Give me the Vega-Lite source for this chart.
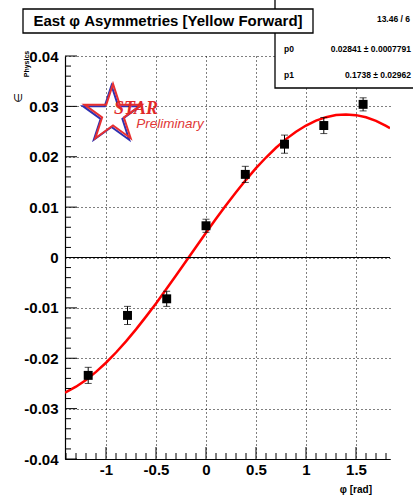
{
  "$schema": "https://vega.github.io/schema/vega-lite/v6.json",
  "width": 325,
  "height": 403,
  "autosize": "none",
  "padding": {"left": 65, "top": 56, "right": 23, "bottom": 40},
  "background": "white",
  "config": {
    "view": {"stroke": null},
    "font": "Liberation Sans",
    "axis": {"labelFont": "Liberation Sans", "titleFont": "Liberation Sans", "labelExpr": "toString(datum.value)",
      "labelFontSize": 15, "labelFontWeight": "bold", "labelColor": "black",
      "domain": true, "domainColor": "black", "domainWidth": 1.2, "ticks": false,
      "grid": true, "gridColor": "black", "gridDash": [1, 3], "gridWidth": 1, "gridOpacity": 1},
    "axisX": {"tickCount": 7, "labelPadding": 3},
    "axisY": {"tickCount": 8, "labelPadding": 7}
  },
  "datasets": {
    "points": [
      {"phi": -1.178, "val": -0.0234, "lo": -0.0250, "hi": -0.0218},
      {"phi": -0.785, "val": -0.0115, "lo": -0.0133, "hi": -0.0097},
      {"phi": -0.393, "val": -0.0082, "lo": -0.0097, "hi": -0.0067},
      {"phi": 0.0, "val": 0.0063, "lo": 0.0050, "hi": 0.0076},
      {"phi": 0.393, "val": 0.0165, "lo": 0.0149, "hi": 0.0181},
      {"phi": 0.785, "val": 0.0225, "lo": 0.0207, "hi": 0.0243},
      {"phi": 1.178, "val": 0.0262, "lo": 0.0246, "hi": 0.0278},
      {"phi": 1.571, "val": 0.0304, "lo": 0.0291, "hi": 0.0317}
    ],
    "curve": [
      {"phi": -1.41, "val": -0.02683},
      {"phi": -1.4, "val": -0.02674},
      {"phi": -1.3, "val": -0.02565},
      {"phi": -1.2, "val": -0.02430},
      {"phi": -1.1, "val": -0.02271},
      {"phi": -1.0, "val": -0.02089},
      {"phi": -0.9, "val": -0.01886},
      {"phi": -0.8, "val": -0.01665},
      {"phi": -0.7, "val": -0.01427},
      {"phi": -0.6, "val": -0.01174},
      {"phi": -0.5, "val": -0.00911},
      {"phi": -0.4, "val": -0.00637},
      {"phi": -0.3, "val": -0.00358},
      {"phi": -0.2, "val": -0.00074},
      {"phi": -0.1, "val": 0.00209},
      {"phi": 0.0, "val": 0.00491},
      {"phi": 0.1, "val": 0.00768},
      {"phi": 0.2, "val": 0.01037},
      {"phi": 0.3, "val": 0.01296},
      {"phi": 0.4, "val": 0.01542},
      {"phi": 0.5, "val": 0.01773},
      {"phi": 0.6, "val": 0.01985},
      {"phi": 0.7, "val": 0.02178},
      {"phi": 0.8, "val": 0.02350},
      {"phi": 0.9, "val": 0.02497},
      {"phi": 1.0, "val": 0.02620},
      {"phi": 1.1, "val": 0.02717},
      {"phi": 1.2, "val": 0.02786},
      {"phi": 1.3, "val": 0.02828},
      {"phi": 1.4, "val": 0.02841},
      {"phi": 1.5, "val": 0.02826},
      {"phi": 1.6, "val": 0.02783},
      {"phi": 1.7, "val": 0.02712},
      {"phi": 1.8, "val": 0.02613},
      {"phi": 1.84, "val": 0.02567}
    ],
    "xMajor": [{"phi": -1}, {"phi": -0.5}, {"phi": 0}, {"phi": 0.5}, {"phi": 1}, {"phi": 1.5}],
    "xMinor": [{"phi": -1.4}, {"phi": -1.3}, {"phi": -1.2}, {"phi": -1.1}, {"phi": -0.9}, {"phi": -0.8}, {"phi": -0.7}, {"phi": -0.6}, {"phi": -0.4}, {"phi": -0.3}, {"phi": -0.2}, {"phi": -0.1}, {"phi": 0.1}, {"phi": 0.2}, {"phi": 0.3}, {"phi": 0.4}, {"phi": 0.6}, {"phi": 0.7}, {"phi": 0.8}, {"phi": 0.9}, {"phi": 1.1}, {"phi": 1.2}, {"phi": 1.3}, {"phi": 1.4}, {"phi": 1.6}, {"phi": 1.7}, {"phi": 1.8}],
    "yMajor": [{"val": -0.04}, {"val": -0.03}, {"val": -0.02}, {"val": -0.01}, {"val": 0}, {"val": 0.01}, {"val": 0.02}, {"val": 0.03}, {"val": 0.04}],
    "yMinor": [{"val": -0.038}, {"val": -0.036}, {"val": -0.034}, {"val": -0.032}, {"val": -0.028}, {"val": -0.026}, {"val": -0.024}, {"val": -0.022}, {"val": -0.018}, {"val": -0.016}, {"val": -0.014}, {"val": -0.012}, {"val": -0.008}, {"val": -0.006}, {"val": -0.004}, {"val": -0.002}, {"val": 0.002}, {"val": 0.004}, {"val": 0.006}, {"val": 0.008}, {"val": 0.012}, {"val": 0.014}, {"val": 0.016}, {"val": 0.018}, {"val": 0.022}, {"val": 0.024}, {"val": 0.026}, {"val": 0.028}, {"val": 0.032}, {"val": 0.034}, {"val": 0.036}, {"val": 0.038}],
    "boxes": [
      {"phi": 0.69, "phi2": 2.2, "val": 0.0525, "val2": 0.03365},
      {"phi": -1.83, "phi2": 1.07, "val": 0.04933, "val2": 0.04457}
    ]
  },
  "layer": [
    {
      "data": {"name": "curve"},
      "mark": {"type": "line", "color": "#ff0000", "strokeWidth": 2.5, "clip": true},
      "encoding": {
        "x": {"field": "phi", "type": "quantitative", "title": null, "scale": {"domain": [-1.41, 1.84], "nice": false, "zero": false}},
        "y": {"field": "val", "type": "quantitative", "title": null, "scale": {"domain": [-0.04, 0.04], "nice": false, "zero": false}}
      }
    },
    {
      "data": {"name": "xMajor"},
      "mark": {"type": "rule", "color": "black", "strokeWidth": 1},
      "encoding": {"x": {"field": "phi", "type": "quantitative", "title": null}, "y": {"datum": -0.04, "type": "quantitative", "title": null}, "y2": {"datum": -0.03762}}
    },
    {
      "data": {"name": "xMinor"},
      "mark": {"type": "rule", "color": "black", "strokeWidth": 1},
      "encoding": {"x": {"field": "phi", "type": "quantitative", "title": null}, "y": {"datum": -0.04, "type": "quantitative", "title": null}, "y2": {"datum": -0.03881}}
    },
    {
      "data": {"name": "yMajor"},
      "mark": {"type": "rule", "color": "black", "strokeWidth": 1},
      "encoding": {"y": {"field": "val", "type": "quantitative", "title": null}, "x": {"datum": -1.41, "type": "quantitative", "title": null}, "x2": {"datum": -1.29}}
    },
    {
      "data": {"name": "yMinor"},
      "mark": {"type": "rule", "color": "black", "strokeWidth": 1},
      "encoding": {"y": {"field": "val", "type": "quantitative", "title": null}, "x": {"datum": -1.41, "type": "quantitative", "title": null}, "x2": {"datum": -1.35}}
    },
    {
      "data": {"name": "points"},
      "mark": {"type": "rule", "color": "black", "strokeWidth": 1},
      "encoding": {
        "x": {"field": "phi", "type": "quantitative", "title": null},
        "y": {"field": "lo", "type": "quantitative", "title": null},
        "y2": {"field": "hi"}
      }
    },
    {
      "data": {"values": [{}]},
      "mark": {"type": "rule", "color": "black", "strokeWidth": 1},
      "encoding": {"y": {"datum": 0, "type": "quantitative", "title": null}}
    },
    {
      "data": {"name": "points"},
      "mark": {"type": "tick", "color": "black", "orient": "horizontal", "size": 7, "thickness": 1},
      "encoding": {"x": {"field": "phi", "type": "quantitative", "title": null}, "y": {"field": "lo", "type": "quantitative", "title": null}}
    },
    {
      "data": {"name": "points"},
      "mark": {"type": "tick", "color": "black", "orient": "horizontal", "size": 7, "thickness": 1},
      "encoding": {"x": {"field": "phi", "type": "quantitative", "title": null}, "y": {"field": "hi", "type": "quantitative", "title": null}}
    },
    {
      "data": {"name": "points"},
      "mark": {"type": "point", "shape": "square", "filled": true, "color": "black", "size": 80, "opacity": 1},
      "encoding": {"x": {"field": "phi", "type": "quantitative", "title": null}, "y": {"field": "val", "type": "quantitative", "title": null}}
    },
    {
      "data": {"values": [{"phi": -0.945, "val": 0.0282}]},
      "mark": {"type": "point", "shape": "M0,-1L0.2245,-0.309L0.951,-0.309L0.363,0.118L0.588,0.809L0,0.382L-0.588,0.809L-0.363,0.118L-0.951,-0.309L-0.2245,-0.309Z", "filled": false, "color": "#3030b0", "strokeWidth": 2, "size": 3600, "opacity": 1},
      "encoding": {"x": {"field": "phi", "type": "quantitative", "title": null}, "y": {"field": "val", "type": "quantitative", "title": null}}
    },
    {
      "data": {"values": [{"phi": -0.93, "val": 0.0285}]},
      "mark": {"type": "point", "shape": "M0,-1L0.2245,-0.309L0.951,-0.309L0.363,0.118L0.588,0.809L0,0.382L-0.588,0.809L-0.363,0.118L-0.951,-0.309L-0.2245,-0.309Z", "filled": false, "color": "#e83030", "strokeWidth": 2, "size": 3600, "opacity": 1},
      "encoding": {"x": {"field": "phi", "type": "quantitative", "title": null}, "y": {"field": "val", "type": "quantitative", "title": null}}
    },
    {
      "data": {"values": [{"phi": -0.7, "val": 0.0294, "t": "STAR"}]},
      "mark": {"type": "text", "font": "Liberation Serif", "fontStyle": "italic", "fontWeight": "bold", "fontSize": 18, "color": "#e02828", "baseline": "middle", "align": "center"},
      "encoding": {"x": {"field": "phi", "type": "quantitative", "title": null}, "y": {"field": "val", "type": "quantitative", "title": null}, "text": {"field": "t"}}
    },
    {
      "data": {"values": [{"phi": -0.36, "val": 0.0265, "t": "Preliminary"}]},
      "mark": {"type": "text", "fontStyle": "italic", "fontSize": 13.5, "color": "#e03838", "baseline": "middle", "align": "center"},
      "encoding": {"x": {"field": "phi", "type": "quantitative", "title": null}, "y": {"field": "val", "type": "quantitative", "title": null}, "text": {"field": "t"}}
    },
    {
      "data": {"name": "boxes"},
      "mark": {"type": "rect", "fill": "white", "stroke": "black", "strokeWidth": 1.3},
      "encoding": {
        "x": {"field": "phi", "type": "quantitative", "title": null}, "x2": {"field": "phi2"},
        "y": {"field": "val", "type": "quantitative", "title": null}, "y2": {"field": "val2"}
      }
    },
    {
      "data": {"values": [{"phi": -0.38, "val": 0.04695, "t": "East φ Asymmetries [Yellow Forward]"}]},
      "mark": {"type": "text", "fontWeight": "bold", "fontSize": 15, "color": "black", "baseline": "middle", "align": "center"},
      "encoding": {"x": {"field": "phi", "type": "quantitative", "title": null}, "y": {"field": "val", "type": "quantitative", "title": null}, "text": {"field": "t"}}
    },
    {
      "data": {"values": [
        {"phi": 2.04, "val": 0.04734, "t": "13.46 / 6"},
        {"phi": 2.05, "val": 0.04139, "t": "0.02841  ± 0.0007791"},
        {"phi": 2.05, "val": 0.03623, "t": "0.1738  ± 0.02962"}
      ]},
      "mark": {"type": "text", "fontWeight": "bold", "fontSize": 8.5, "color": "black", "baseline": "middle", "align": "right"},
      "encoding": {"x": {"field": "phi", "type": "quantitative", "title": null}, "y": {"field": "val", "type": "quantitative", "title": null}, "text": {"field": "t"}}
    },
    {
      "data": {"values": [
        {"phi": 0.78, "val": 0.04139, "t": "p0"},
        {"phi": 0.78, "val": 0.03623, "t": "p1"}
      ]},
      "mark": {"type": "text", "fontWeight": "bold", "fontSize": 8.5, "color": "black", "baseline": "middle", "align": "left"},
      "encoding": {"x": {"field": "phi", "type": "quantitative", "title": null}, "y": {"field": "val", "type": "quantitative", "title": null}, "text": {"field": "t"}}
    },
    {
      "data": {"values": [{"phi": -1.87, "val": 0.03166, "t": "∈"}]},
      "mark": {"type": "text", "font": "DejaVu Sans", "fontSize": 11, "color": "black", "angle": 270, "baseline": "middle", "align": "center"},
      "encoding": {"x": {"field": "phi", "type": "quantitative", "title": null}, "y": {"field": "val", "type": "quantitative", "title": null}, "text": {"field": "t"}}
    },
    {
      "data": {"values": [{"phi": -1.79, "val": 0.03841, "t": "Physics"}]},
      "mark": {"type": "text", "fontSize": 7, "fontWeight": "bold", "color": "black", "angle": 270, "baseline": "middle", "align": "center"},
      "encoding": {"x": {"field": "phi", "type": "quantitative", "title": null}, "y": {"field": "val", "type": "quantitative", "title": null}, "text": {"field": "t"}}
    },
    {
      "data": {"values": [{"phi": 1.66, "val": -0.04615, "t": "φ [rad]"}]},
      "mark": {"type": "text", "fontSize": 10, "fontWeight": "bold", "color": "black", "baseline": "middle", "align": "right"},
      "encoding": {"x": {"field": "phi", "type": "quantitative", "title": null}, "y": {"field": "val", "type": "quantitative", "title": null}, "text": {"field": "t"}}
    }
  ]
}
